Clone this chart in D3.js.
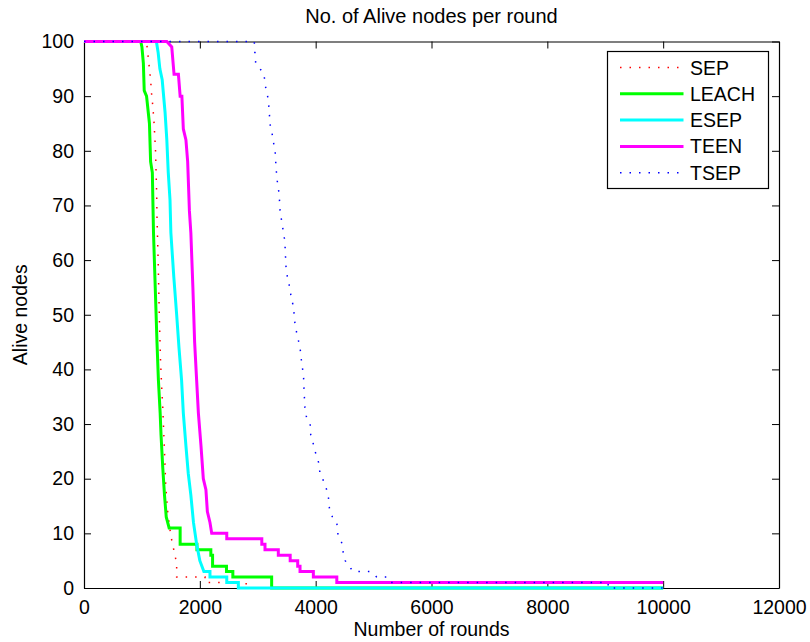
<!DOCTYPE html>
<html>
<head>
<meta charset="utf-8">
<script src="https://cdn.jsdelivr.net/npm/d3@7"></script>
<style>
  body { margin: 0; background: #fff; }
  text { font-family: "Liberation Sans", Arial, sans-serif; fill: #000; }
</style>
</head>
<body>
<script>
// series names, in legend order
var seriesNames = ["SEP", "LEACH", "ESEP", "TEEN", "TSEP"];

// values: rounds (x) and alive nodes (y)
var sepRounds = [0, 1070, 1090, 1110, 1130, 1150, 1170, 1190, 1210, 1225, 1235, 1245, 1255, 1260, 1280, 1300, 1320, 1340, 1360, 1375, 1390, 1400, 1410, 1430, 1445, 1480, 1510, 1550, 1590, 1600, 1600, 2090, 2090, 2800, 2800, 10000];
var sepNodes  = [100, 100, 99, 97, 95, 93, 90, 88, 85, 82, 80, 76, 72, 68, 60, 50, 42, 37, 33, 29, 25, 22, 19, 16, 14, 11, 9, 7, 5, 4, 2, 2, 1, 1, 0, 0];

var leachRounds = [0, 980, 1000, 1025, 1040, 1080, 1130, 1150, 1180, 1200, 1230, 1260, 1285, 1315, 1330, 1360, 1390, 1420, 1470, 1660, 1660, 1950, 1950, 2190, 2190, 2220, 2220, 2460, 2460, 2570, 2570, 3240, 3240, 10000];
var leachNodes  = [100, 100, 99, 96, 91, 90, 85, 78, 76, 65, 55, 45, 38, 32, 28, 22, 17, 13, 11, 11, 8, 8, 7, 7, 6, 6, 4, 4, 3, 3, 2, 2, 0, 0];

var esepRounds = [0, 1250, 1280, 1310, 1350, 1400, 1430, 1455, 1485, 1500, 1550, 1600, 1640, 1685, 1715, 1760, 1800, 1845, 1890, 1945, 2000, 2070, 2175, 2175, 2465, 2465, 2665, 2665, 10000];
var esepNodes  = [100, 100, 98, 95, 93, 87, 82, 76, 71, 65, 57, 50, 44, 38, 32, 26, 21, 17, 12, 8, 5, 3, 3, 2, 2, 1, 1, 0, 0];

var teenRounds = [0, 1430, 1515, 1555, 1630, 1660, 1690, 1715, 1760, 1790, 1820, 1845, 1880, 1910, 1945, 1975, 2020, 2060, 2105, 2130, 2175, 2205, 2465, 2465, 3070, 3070, 3125, 3125, 3355, 3355, 3560, 3560, 3690, 3690, 3730, 3730, 3960, 3960, 4365, 4365, 10000];
var teenNodes  = [100, 100, 99, 94, 94, 90, 90, 84, 82, 78, 69, 65, 55, 45, 38, 32, 26, 20, 18, 14, 12, 10, 10, 9, 9, 8, 8, 7, 7, 6, 6, 5, 5, 4, 4, 3, 3, 2, 2, 1, 1];

var tsepRounds = [0, 2940, 2950, 2965, 3040, 3110, 3125, 3155, 3185, 3200, 3210, 3250, 3280, 3300, 3310, 3330, 3370, 3385, 3415, 3430, 3460, 3475, 3485, 3500, 3520, 3560, 3575, 3605, 3630, 3645, 3730, 3750, 3760, 3790, 3800, 3815, 3845, 3905, 3915, 3945, 3990, 4050, 4075, 4120, 4190, 4230, 4240, 4290, 4365, 4380, 4420, 4460, 4480, 4510, 4575, 4650, 4950, 5055, 5230, 5285, 9050, 9050, 10000];
var tsepNodes  = [100, 100, 98, 96, 95, 94, 92, 91, 89, 87, 85, 83, 81, 80, 78, 75, 72, 69, 67, 66, 64, 62, 59, 58, 56, 55, 53, 52, 50, 48, 44, 42, 41, 39, 36, 33, 31, 30, 28, 27, 25, 23, 21, 20, 18, 16, 14, 13, 12, 10, 9, 8, 6, 5, 4, 3, 3, 2, 2, 1, 1, 0, 0];

var xTicks = [0, 2000, 4000, 6000, 8000, 10000, 12000];
var yTicks = [0, 10, 20, 30, 40, 50, 60, 70, 80, 90, 100];

var allRounds = [sepRounds, leachRounds, esepRounds, teenRounds, tsepRounds];
var allNodes = [sepNodes, leachNodes, esepNodes, teenNodes, tsepNodes];

// styles
var colors = ["#ff0000", "#00ff00", "#00ffff", "#ff00ff", "#0000ff"];
var widths = [1.5, 3, 3, 3, 1.5];
var dashes = ["1.5,8", null, null, null, "1.5,8"];

var width = 810, height = 642;
var margin = {left: 84, right: 31, top: 41.5, bottom: 54};

var svg = d3.select("body").append("svg")
    .attr("width", width)
    .attr("height", height);

var x = d3.scaleLinear().domain([0, 12000]).range([margin.left, width - margin.right]);
var y = d3.scaleLinear().domain([0, 100]).range([height - margin.bottom, margin.top]);

var fontSize = "19.5px";

// axes, ticks pointing inward like matlab
var xAxis = svg.append("g")
    .attr("transform", "translate(0," + y(0) + ")")
    .call(d3.axisBottom(x).tickValues(xTicks).tickFormat(d3.format("d")).tickSizeInner(-7).tickSizeOuter(0).tickPadding(12));
var xAxisTop = svg.append("g")
    .attr("transform", "translate(0," + y(100) + ")")
    .call(d3.axisTop(x).tickValues(xTicks).tickSizeInner(-7).tickSizeOuter(0).tickFormat(""));
var yAxis = svg.append("g")
    .attr("transform", "translate(" + x(0) + ",0)")
    .call(d3.axisLeft(y).tickValues(yTicks).tickFormat(d3.format("d")).tickSizeInner(-7).tickSizeOuter(0).tickPadding(10));
var yAxisRight = svg.append("g")
    .attr("transform", "translate(" + x(12000) + ",0)")
    .call(d3.axisRight(y).tickValues(yTicks).tickSizeInner(-7).tickSizeOuter(0).tickFormat(""));

svg.selectAll(".domain").attr("stroke", "#000").attr("stroke-width", 1.2);
svg.selectAll(".tick line").attr("stroke", "#000");
svg.selectAll(".tick text")
    .style("font-family", "'Liberation Sans', Arial, sans-serif")
    .style("font-size", fontSize)
    .attr("fill", "#000");

// the lines
var line = d3.line()
    .x(function(d){ return x(d[0]); })
    .y(function(d){ return y(d[1]); });

seriesNames.forEach(function(name, i){
    var pts = allRounds[i].map(function(r, j){ return [r, allNodes[i][j]]; });
    svg.append("path")
        .datum(pts)
        .attr("class", "series " + name)
        .attr("fill", "none")
        .attr("stroke", colors[i])
        .attr("stroke-width", widths[i])
        .attr("stroke-dasharray", dashes[i])
        .attr("d", line);
});

// title and labels
svg.append("text")
    .attr("x", (x(0) + x(12000)) / 2)
    .attr("y", 23)
    .attr("text-anchor", "middle")
    .style("font-size", "20px")
    .text("No. of Alive nodes per round");

svg.append("text")
    .attr("x", (x(0) + x(12000)) / 2)
    .attr("y", 636)
    .attr("text-anchor", "middle")
    .style("font-size", fontSize)
    .text("Number of rounds");

svg.append("text")
    .attr("transform", "translate(27," + (y(0) + y(100)) / 2 + ") rotate(-90)")
    .attr("text-anchor", "middle")
    .style("font-size", fontSize)
    .text("Alive nodes");

// legend
var legend = svg.append("g").attr("transform", "translate(607.5,51.5)");
legend.append("rect")
    .attr("width", 161)
    .attr("height", 137)
    .attr("fill", "#fff")
    .attr("stroke", "#000")
    .attr("stroke-width", 1.2);

seriesNames.forEach(function(name, i){
    var ly = 16 + i * 26.3;
    legend.append("line")
        .attr("x1", 12.5).attr("x2", 76)
        .attr("y1", ly).attr("y2", ly)
        .attr("stroke", colors[i])
        .attr("stroke-width", widths[i])
        .attr("stroke-dasharray", dashes[i]);
    legend.append("text")
        .attr("x", 82.5)
        .attr("y", ly + 7)
        .style("font-size", fontSize)
        .text(name);
});
</script>
</body>
</html>
